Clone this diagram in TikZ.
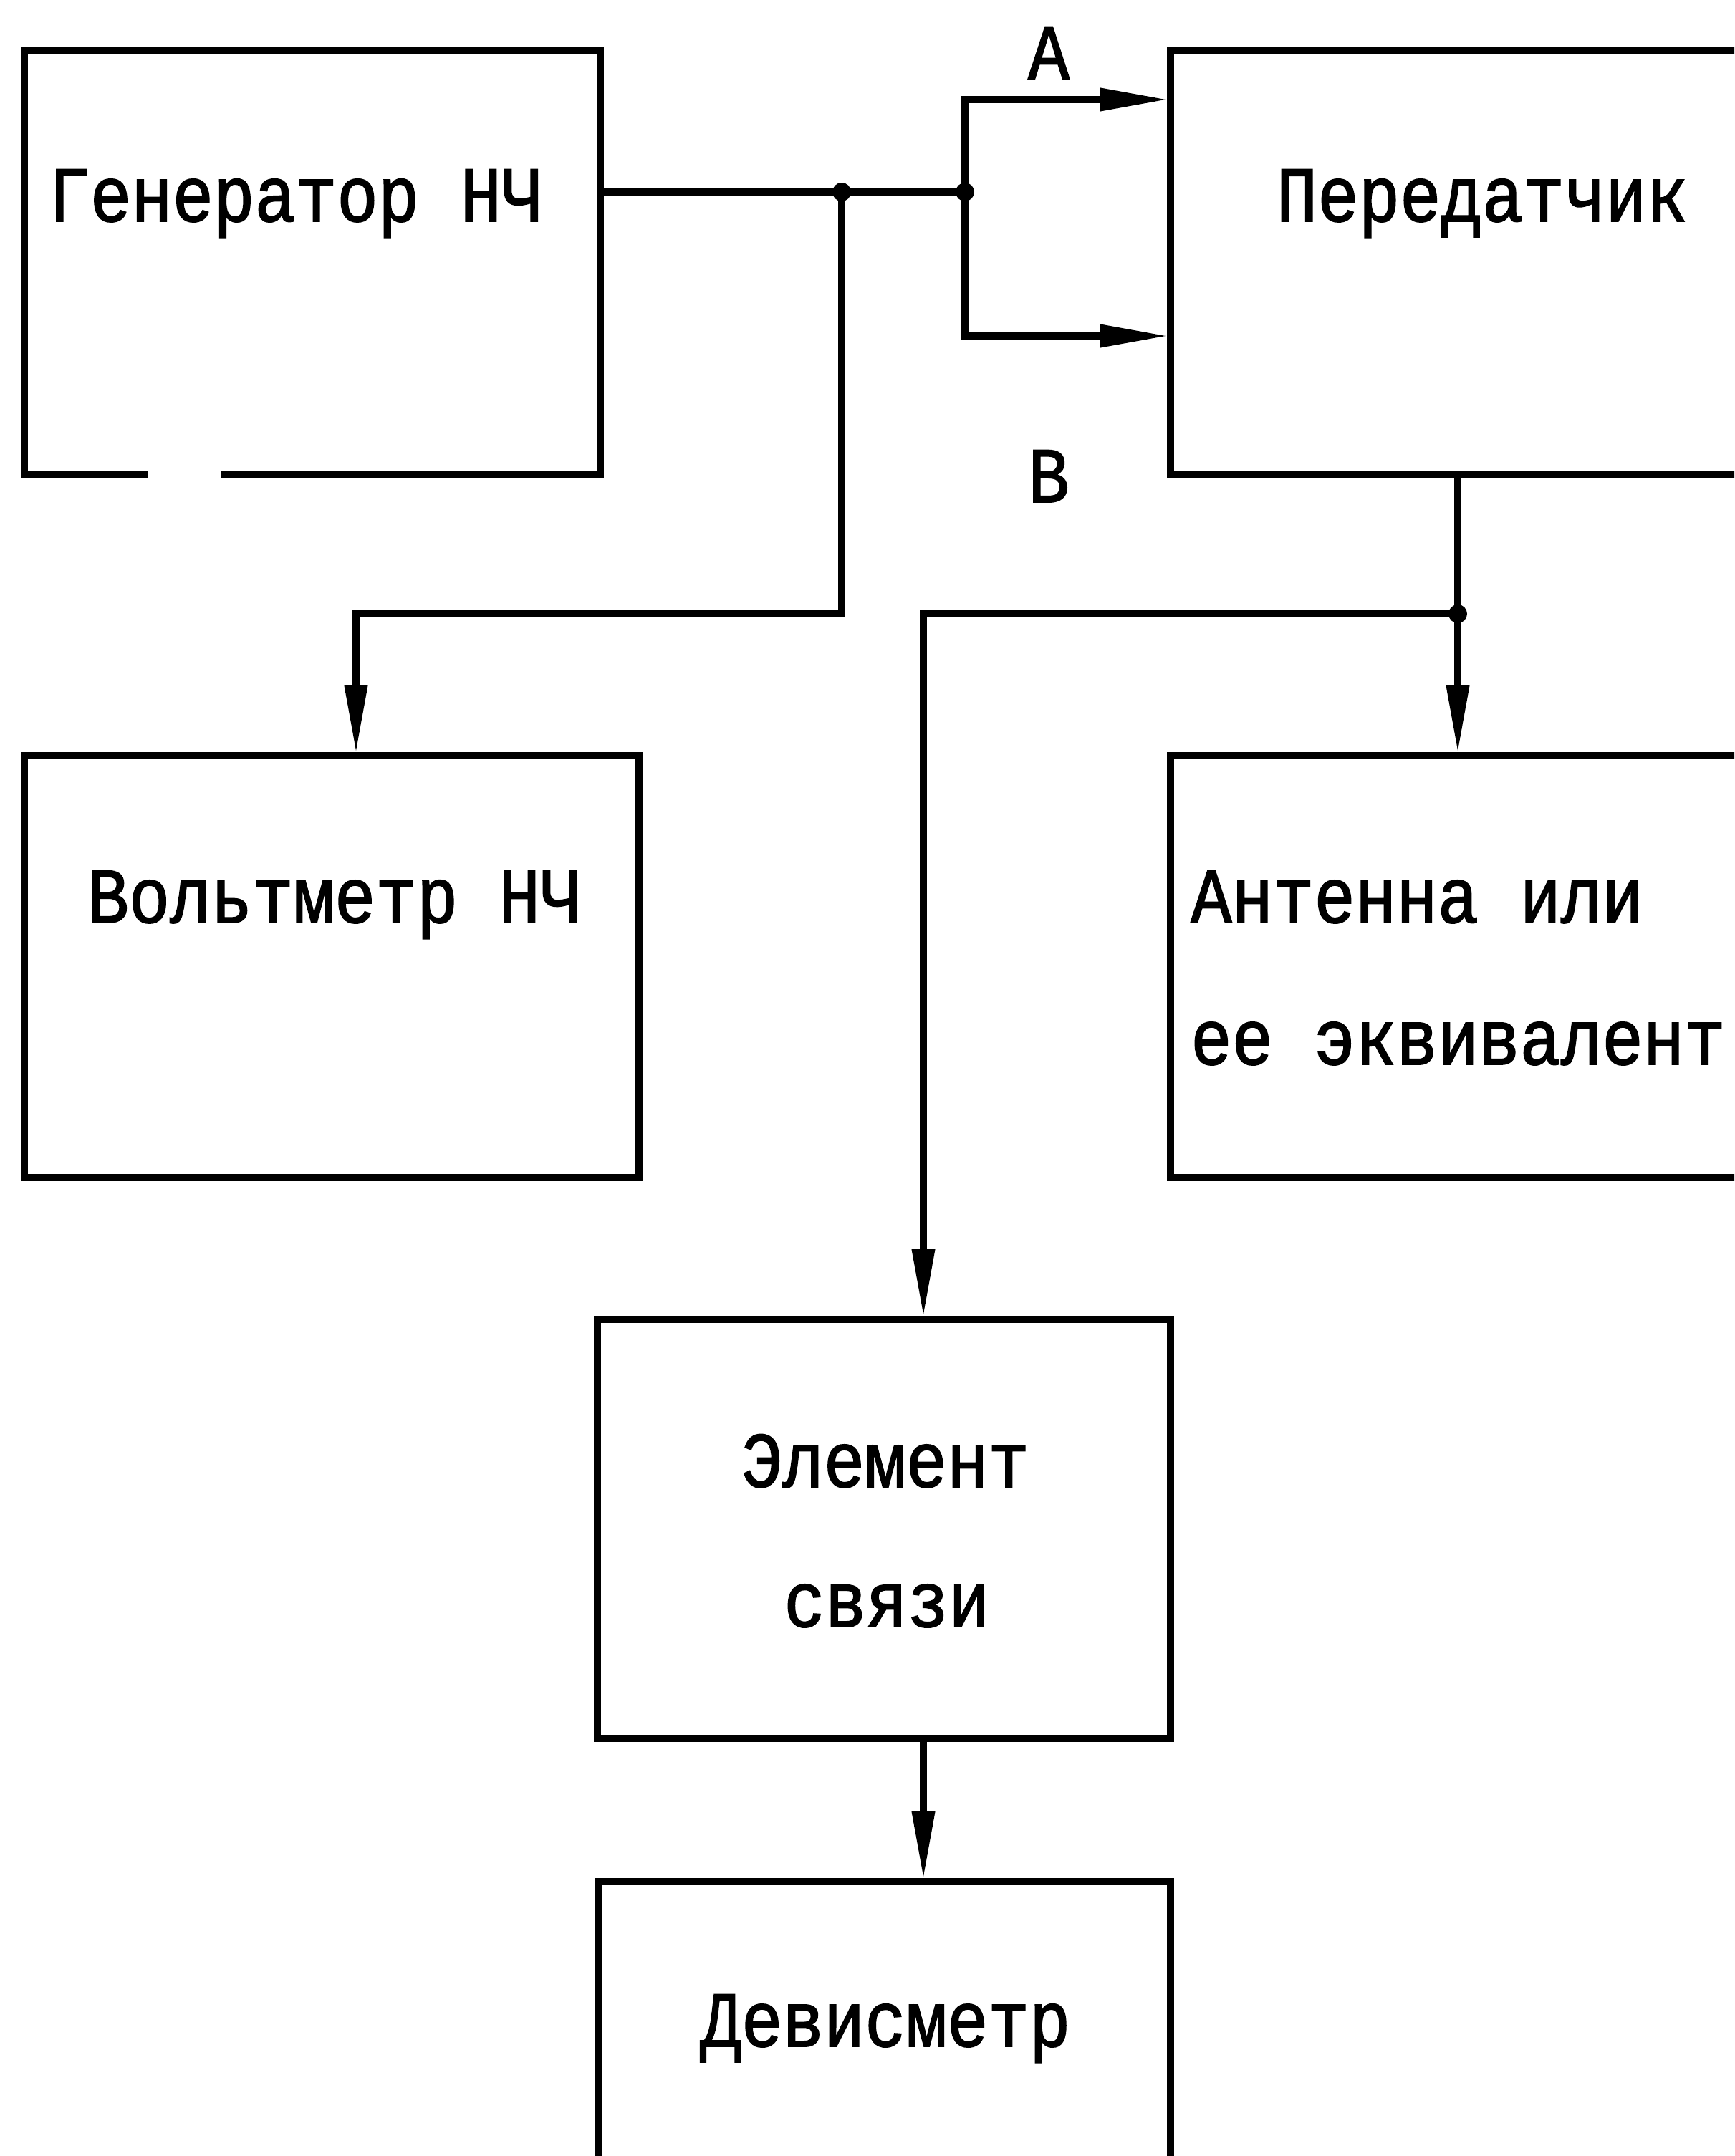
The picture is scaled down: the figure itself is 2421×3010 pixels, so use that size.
\documentclass[tikz,border=0pt]{standalone}
\usepackage{fontspec}
\newfontfamily\tw[FakeStretch=0.87,FakeBold=1.6]{Liberation Mono}
\usetikzlibrary{arrows.meta}
\tikzset{
  box/.style={draw, rectangle, line width=10pt, inner sep=0pt},
  lbl/.style={inner sep=0pt, font=\tw\fontsize{110}{120}\selectfont},
  wire/.style={line width=10pt},
  arr/.style={wire, -{Triangle[length=95pt,width=30pt]}, shorten >=-2pt},
}
\begin{document}
\begin{tikzpicture}[x=1pt,y=-1pt]
\useasboundingbox (0,0) rectangle (2421,3010);
\clip (0,0) rectangle (2421,3010);
% boxes
\node[box, minimum width=804pt, minimum height=592pt] (gen) at (436,367) {};
\node[box, minimum width=826pt, minimum height=592pt] (trans) at (2047,367) {};
\node[box, minimum width=858pt, minimum height=589pt] (volt) at (463,1349.5) {};
\node[box, minimum width=826pt, minimum height=589pt] (ant) at (2047,1349.5) {};
\node[box, minimum width=800pt, minimum height=585pt] (elem) at (1234,2134.5) {};
\node[box, minimum width=798pt, minimum height=453pt] (dev) at (1235,2853.5) {};
% gap in the bottom edge of the generator box
\fill[white] (207,650) rectangle (308,680);
% texts
\node[lbl, anchor=base] (tgen) at (413,309) {Генератор НЧ};
\node[lbl, anchor=base] (ttrans) at (2069,309) {Передатчик};
\node[lbl, anchor=base] (tvolt) at (467,1288) {Вольтметр НЧ};
\node[lbl, anchor=base west] (tant1) at (1662,1288) {Антенна или};
\node[lbl, anchor=base west] (tant2) at (1662,1486) {ее эквивалент};
\node[lbl, anchor=base] (telem1) at (1236,2076) {Элемент};
\node[lbl, anchor=base] (telem2) at (1238,2271) {связи};
\node[lbl, anchor=base] (tdev) at (1236,2857) {Девисметр};
\node[lbl, anchor=base] (la) at (1464,110) {А};
\node[lbl, anchor=base] (lb) at (1464,701) {В};
% junctions and bends
\coordinate (j1) at (1175,268);
\coordinate (j2) at (1347,268);
\coordinate (j3) at (2035,857);
\coordinate (ya) at (0,139);
\coordinate (yb) at (0,469);
\coordinate (vx) at (497,857);
\coordinate (ex) at (1289,857);
% connectors
\draw[wire] (gen.east |- j1) -- (j2);
\draw[arr] (j2) |- (trans.west |- ya);
\draw[arr] (j2) |- (trans.west |- yb);
\draw[arr] (j1) |- (vx) -- (volt.north -| vx);
\draw[arr] (trans.south -| j3) -- (ant.north -| j3);
\draw[arr] (j3) -- (ex) -- (elem.north -| ex);
\draw[arr] (elem.south -| ex) -- (dev.north -| ex);
\fill (j1) circle (13);
\fill (j2) circle (13);
\fill (j3) circle (13);
\end{tikzpicture}
\end{document}
